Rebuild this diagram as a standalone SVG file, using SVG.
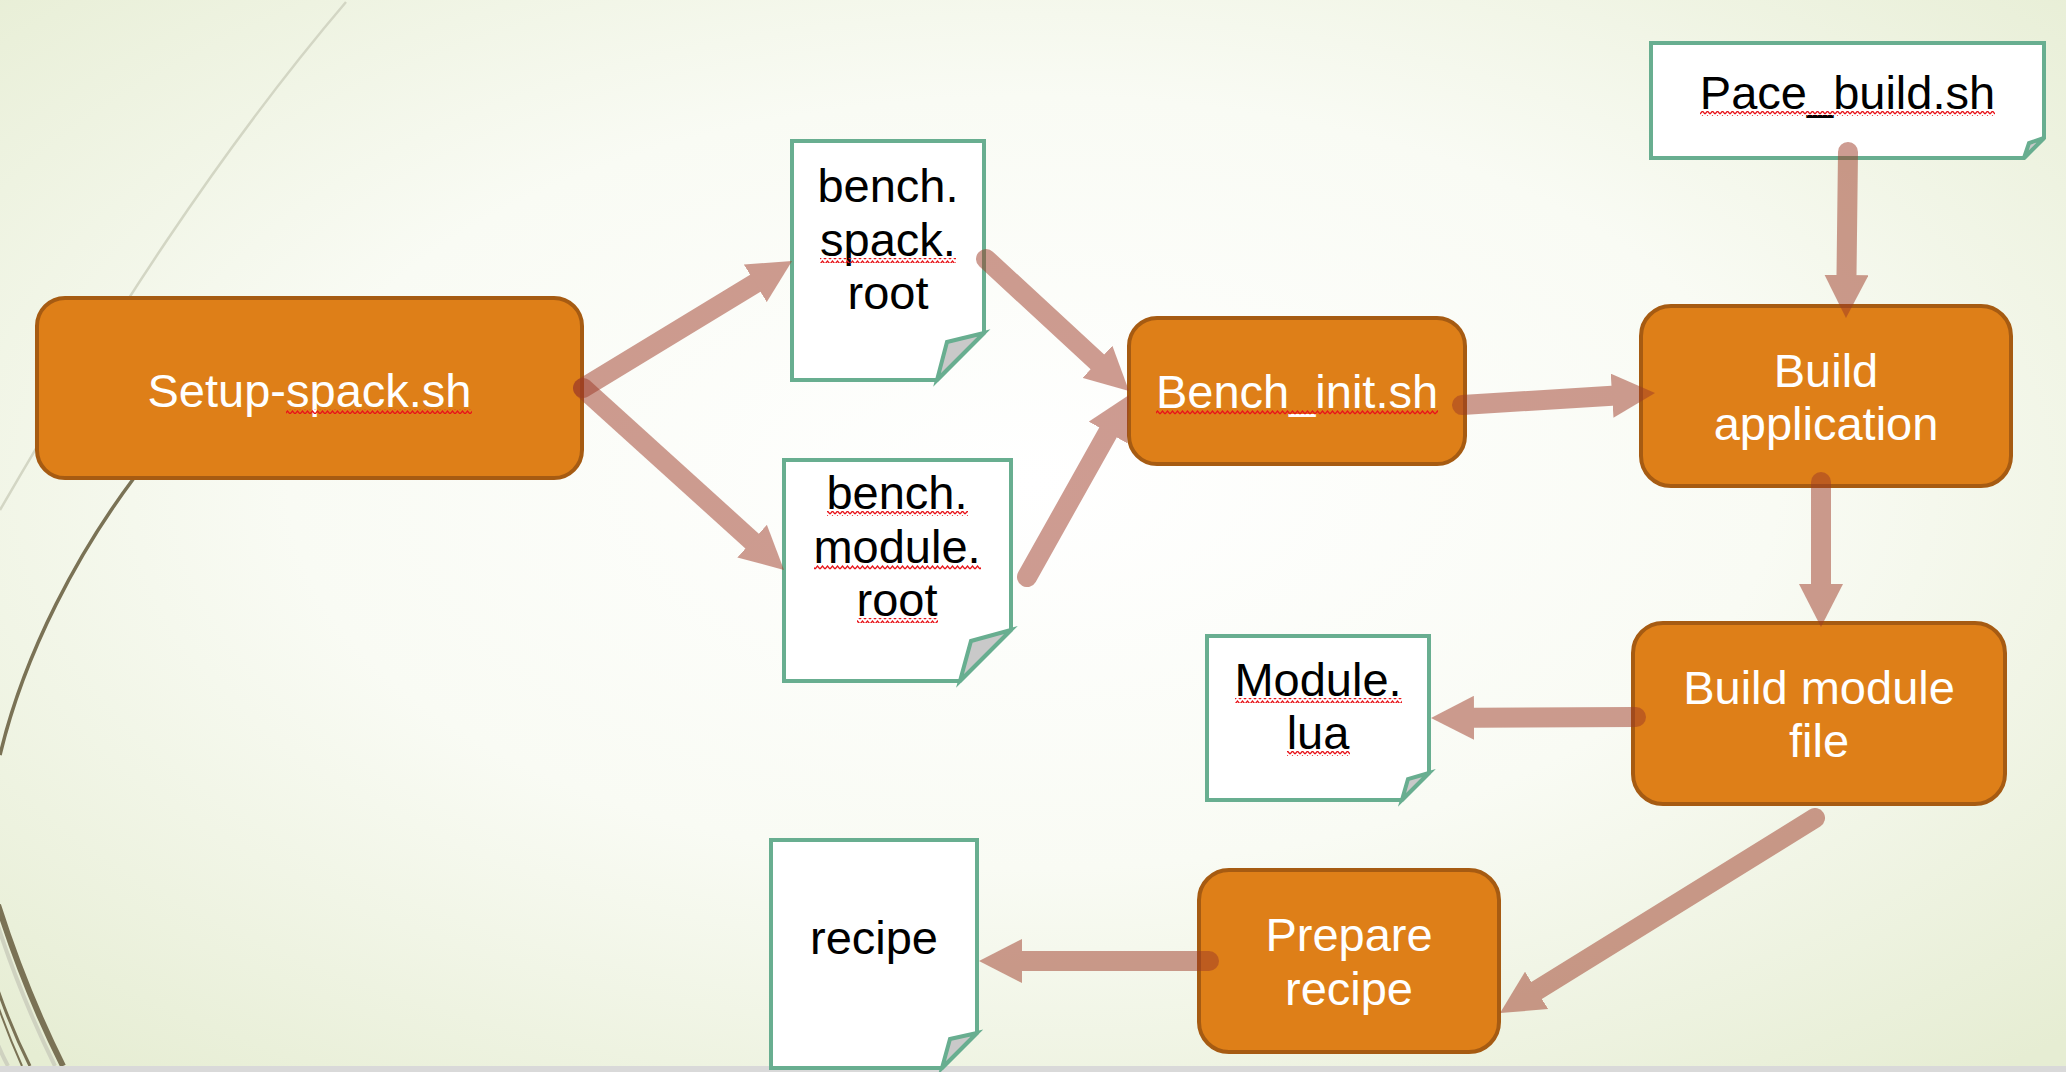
<svg xmlns="http://www.w3.org/2000/svg" width="2066" height="1072" viewBox="0 0 2066 1072">
<defs>
<radialGradient id="bg" cx="0.5" cy="0.45" r="0.72">
<stop offset="0" stop-color="#ffffff"/>
<stop offset="0.5" stop-color="#f9fbf4"/>
<stop offset="1" stop-color="#e6edd3"/>
</radialGradient>
<pattern id="squig" width="5" height="5" patternUnits="userSpaceOnUse">
<path d="M0 4 L2.5 1 L5 4" fill="none" stroke="#e8141a" stroke-width="1.3"/>
</pattern>
<marker id="head" viewBox="0 -22 43 44" refX="0" refY="0" markerWidth="43" markerHeight="44" markerUnits="userSpaceOnUse" orient="auto">
<path d="M0,-22 L43,0 L0,22 z" fill="#9e3b27"/>
</marker>
<style>
.box{fill:#de7f18;stroke:#a65b12;stroke-width:4}
.doc{fill:#ffffff;stroke:#68ae90;stroke-width:4;stroke-linejoin:miter}
.fold{fill:#c9c9c9;stroke:#68ae90;stroke-width:4;stroke-linejoin:miter}
.wt{font-family:"Liberation Sans",Arial,sans-serif;font-size:47px;fill:#ffffff;text-anchor:middle}
.bt{font-family:"Liberation Sans",Arial,sans-serif;font-size:47px;fill:#000000;text-anchor:middle}
.sq{fill:url(#squig)}
.conn{opacity:0.5}
.conn line{stroke:#9e3b27;stroke-width:20;stroke-linecap:round;marker-end:url(#head)}
</style>
</defs>
<rect x="0" y="0" width="2066" height="1072" fill="url(#bg)"/>
<g id="decor" fill="none">
<path d="M346 2 C220 150 110 320 0 510" stroke="#d3d6c4" stroke-width="2.5"/>
<path d="M134 478 C80 550 25 650 0 755" stroke="#7a7255" stroke-width="3.5"/>
<path d="M-4 920 Q20 995 55 1066" stroke="#cfd2c0" stroke-width="4"/>
<path d="M-2 905 Q25 990 63 1066" stroke="#7a7255" stroke-width="6"/>
<path d="M-2 990 Q12 1030 30 1066" stroke="#7a7255" stroke-width="3"/>
<path d="M-4 1000 Q8 1035 22 1066" stroke="#7a7255" stroke-width="2"/>
<path d="M-4 1040 Q2 1055 8 1066" stroke="#cfd2c0" stroke-width="4"/>
</g>
<rect x="0" y="1066" width="2066" height="6" fill="#d9d9d9"/>
<g id="nodes">
<g id="setup-spack">
<rect class="box" x="37" y="298" width="545" height="180" rx="28"/>
<text class="wt" x="309.5" y="407">Setup-spack.sh</text>
<rect class="sq" x="286" y="409" width="186" height="5"/>
</g>
<g id="bench-spack-root">
<path class="doc" d="M792 141 H984 V333 L937 380 H792 Z"/>
<path class="fold" d="M984 333 L947 342 L937 380 Z"/>
<text class="bt" x="888" y="202">bench.</text>
<text class="bt" x="888" y="256">spack.</text>
<text class="bt" x="888" y="309">root</text>
<rect class="sq" x="820" y="258" width="136" height="5"/>
</g>
<g id="bench-module-root">
<path class="doc" d="M784 460 H1011 V630 L960 681 H784 Z"/>
<path class="fold" d="M1011 630 L971 641 L960 681 Z"/>
<text class="bt" x="897" y="509">bench.</text>
<text class="bt" x="897" y="563">module.</text>
<text class="bt" x="897" y="616">root</text>
<rect class="sq" x="827" y="511" width="141" height="5"/>
<rect class="sq" x="814" y="565" width="167" height="5"/>
<rect class="sq" x="857" y="618" width="81" height="5"/>
</g>
<g id="bench-init">
<rect class="box" x="1129" y="318" width="336" height="146" rx="28"/>
<text class="wt" x="1297" y="408">Bench_init.sh</text>
<rect class="sq" x="1156" y="410" width="282" height="5"/>
</g>
<g id="pace-build">
<path class="doc" d="M1651 43 H2044 V138 L2024 158 H1651 Z"/>
<path class="fold" d="M2044 138 L2029 143 L2024 158 Z"/>
<text class="bt" x="1847.5" y="109">Pace_build.sh</text>
<rect class="sq" x="1700" y="111" width="295" height="5"/>
</g>
<g id="build-application">
<rect class="box" x="1641" y="306" width="370" height="180" rx="30"/>
<text class="wt" x="1826" y="387">Build</text>
<text class="wt" x="1826" y="440">application</text>
</g>
<g id="build-module-file">
<rect class="box" x="1633" y="623" width="372" height="181" rx="30"/>
<text class="wt" x="1819" y="704">Build module</text>
<text class="wt" x="1819" y="757">file</text>
</g>
<g id="module-lua">
<path class="doc" d="M1207 636 H1429 V773 L1402 800 H1207 Z"/>
<path class="fold" d="M1429 773 L1408 779 L1402 800 Z"/>
<text class="bt" x="1318" y="696">Module.</text>
<text class="bt" x="1318" y="749">lua</text>
<rect class="sq" x="1235" y="698" width="167" height="5"/>
<rect class="sq" x="1287" y="751" width="63" height="5"/>
</g>
<g id="prepare-recipe">
<rect class="box" x="1199" y="870" width="300" height="182" rx="30"/>
<text class="wt" x="1349" y="951">Prepare</text>
<text class="wt" x="1349" y="1005">recipe</text>
</g>
<g id="recipe">
<path class="doc" d="M771 840 H977 V1033 L942 1068 H771 Z"/>
<path class="fold" d="M977 1033 L950 1039 L942 1068 Z"/>
<text class="bt" x="874" y="954">recipe</text>
</g>
</g>
<g id="connectors">
<g class="conn"><line x1="583" y1="388" x2="755.3" y2="283.3"/></g>
<g class="conn"><line x1="583" y1="388" x2="752.1" y2="541.1"/></g>
<g class="conn"><line x1="986" y1="259" x2="1097.4" y2="361.8"/></g>
<g class="conn"><line x1="1027" y1="577" x2="1108" y2="432.5"/></g>
<g class="conn"><line x1="1462" y1="405" x2="1612.1" y2="395.7"/></g>
<g class="conn"><line x1="1848" y1="152" x2="1846.5" y2="275"/></g>
<g class="conn"><line x1="1821" y1="482" x2="1821" y2="584"/></g>
<g class="conn"><line x1="1636" y1="717" x2="1474" y2="717.8"/></g>
<g class="conn"><line x1="1815" y1="818" x2="1536.6" y2="990.4"/></g>
<g class="conn"><line x1="1209" y1="961" x2="1022" y2="961"/></g>
</g>
</svg>
